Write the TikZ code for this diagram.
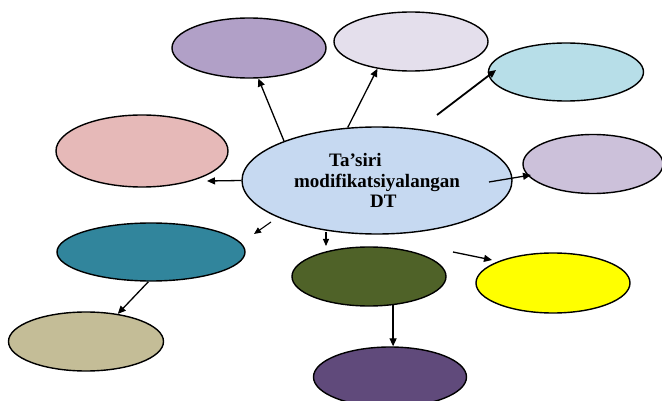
\documentclass[tikz,border=0pt]{standalone}
\usepackage{fontspec}
\setmainfont{Liberation Serif}
\usetikzlibrary{shapes.geometric,arrows.meta}
\definecolor{cPone}{HTML}{B1A0C7}
\definecolor{cLav}{HTML}{E4DFEC}
\definecolor{cLB}{HTML}{B7DEE8}
\definecolor{cPink}{HTML}{E6B9B8}
\definecolor{cCen}{HTML}{C6D9F1}
\definecolor{cRL}{HTML}{CCC1DA}
\definecolor{cTeal}{HTML}{31859C}
\definecolor{cOlive}{HTML}{4F6228}
\definecolor{cYel}{HTML}{FFFF00}
\definecolor{cKhaki}{HTML}{C4BD97}
\definecolor{cDP}{HTML}{604A7B}
\begin{document}
\begin{tikzpicture}[x=1pt,y=-1pt,
  bub/.style={ellipse,draw=black,line width=1.4pt,inner sep=0pt},
  arr/.style={-{Triangle[length=8pt,width=7pt]},line width=1.3pt}]
\useasboundingbox (0,0) rectangle (662,401);
\clip (0,0) rectangle (662,401);
\node[bub,fill=cPone,minimum width=154,minimum height=60] (P1) at (249,48) {};
\node[bub,fill=cLav,minimum width=154,minimum height=59] (L2) at (411,41.5) {};
\node[bub,fill=cLB,minimum width=155,minimum height=58] (LB) at (566,72) {};
\node[bub,fill=cPink,minimum width=172,minimum height=72] (PK) at (142,151) {};
\node[bub,fill=cRL,minimum width=140,minimum height=59] (RL) at (593,164) {};
\node[bub,fill=cTeal,minimum width=188,minimum height=58] (T) at (151,252) {};
\node[bub,fill=cOlive,minimum width=154,minimum height=59] (O) at (369,276.5) {};
\node[bub,fill=cYel,minimum width=154,minimum height=60] (Y) at (553,283) {};
\node[bub,fill=cKhaki,minimum width=155,minimum height=59] (K) at (86,341.5) {};
\node[bub,fill=cDP,minimum width=153,minimum height=60] (DP) at (390,377) {};
\node[bub,fill=cCen,minimum width=270,minimum height=107,align=left,
  font=\bfseries\fontsize{19}{20.5}\selectfont] (C) at (377,180.5)
  {\hspace*{35pt}Ta’siri\\modifikatsiyalangan\\\hspace*{76pt}DT};
% free ends
\coordinate (f1) at (437,115);
\coordinate (f1e) at (496,70);
\coordinate (f2) at (489,182);
\coordinate (f2e) at (531,175);
\coordinate (f3e) at (207,181);
\coordinate (f4) at (271,222);
\coordinate (f4e) at (254,234);
\coordinate (f5) at (326,232);
\coordinate (f5e) at (326,246);
\coordinate (f6) at (453,252);
\coordinate (f6e) at (492,260);
% connectors
\draw[arr] (C.157) -- (P1.-73);
\draw[arr] (C.119) -- (L2.219);
\draw[arr,line width=1.8pt] (f1) -- (f1e);
\draw[arr] (f2) -- (f2e);
\draw[arr] (C.west) -- (f3e);
\draw[arr,-{Triangle[length=7pt,width=6pt]},line width=1.1pt] (f4) -- (f4e);
\draw[arr,-{Triangle[length=7pt,width=6pt]},line width=1.1pt] (f5) -- (f5e);
\draw[arr] (f6) -- (f6e);
\draw[arr] (T.265) -- (K.41);
\draw[arr] (O.-50) -- (O.-50 |- DP.north);
\end{tikzpicture}
\end{document}
